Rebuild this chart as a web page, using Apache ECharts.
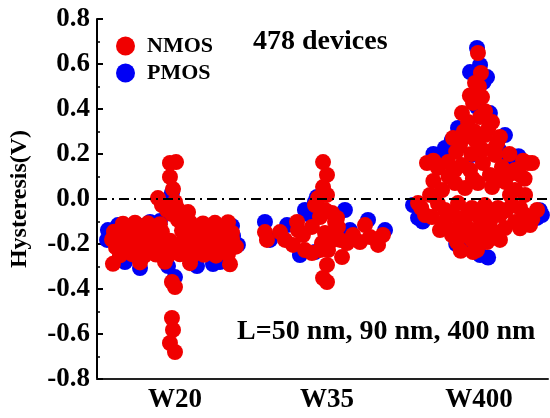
<!DOCTYPE html>
<html>
<head>
<meta charset="utf-8">
<script src="https://cdn.jsdelivr.net/npm/echarts@6/dist/echarts.min.js"></script>
<style>html,body{margin:0;padding:0;background:#fff}#c{width:550px;height:418px}</style>
</head>
<body>
<div id="c"></div>
<script>
// Categories (x positions 1, 2, 3) and y tick labels
const categories = ['W20', 'W35', 'W400'];
const yTickValues = [-0.8, -0.6, -0.4, -0.2, 0.0, 0.2, 0.4, 0.6, 0.8];

// NMOS points: [jittered category position, hysteresis (V)]
const nmosW20 = [
  [0.967,0.16],[1.007,0.164],[0.967,0.098],[0.987,0.044],[0.888,0.004],[0.914,-0.027],[0.947,-0.049],[1.0,-0.013],[1.013,-0.04],[1.086,-0.058],[1.053,-0.084],[1.02,-0.093],[0.98,-0.067],
  [0.658,-0.11],[0.737,-0.105],[0.822,-0.108],[0.901,-0.112],[1.099,-0.104],[1.184,-0.109],[1.263,-0.106],[1.349,-0.103],
  [0.599,-0.145],[0.678,-0.14],[0.757,-0.147],[0.836,-0.138],[0.914,-0.146],[1.046,-0.14],[1.138,-0.148],[1.217,-0.137],[1.296,-0.144],[1.375,-0.15],
  [0.586,-0.18],[0.651,-0.186],[0.73,-0.178],[0.809,-0.184],[0.888,-0.176],[0.967,-0.185],[1.059,-0.18],[1.138,-0.188],[1.217,-0.179],[1.296,-0.183],[1.375,-0.177],
  [0.612,-0.215],[0.691,-0.21],[0.77,-0.218],[0.849,-0.212],[0.928,-0.216],[1.02,-0.209],[1.099,-0.214],[1.178,-0.22],[1.257,-0.211],[1.336,-0.217],[1.401,-0.212],
  [0.638,-0.25],[0.717,-0.245],[0.796,-0.253],[0.875,-0.247],[0.954,-0.251],[1.033,-0.246],[1.112,-0.254],[1.191,-0.248],[1.27,-0.252],[1.349,-0.244],
  [0.592,-0.288],[0.77,-0.282],[0.934,-0.279],[1.099,-0.285],[1.362,-0.29],
  [0.98,-0.369],[1.0,-0.391],[0.98,-0.529],[0.987,-0.582],[0.967,-0.64],[1.0,-0.68]
];
const nmosW35 = [
  [1.974,0.164],[2.0,0.107],[1.974,0.053],[2.0,0.018],[1.941,0.004],[1.921,-0.027],[1.987,-0.049],[2.033,-0.062],[2.066,-0.084],[1.954,-0.08],
  [1.803,-0.102],[1.592,-0.147],[1.691,-0.147],[1.605,-0.182],[1.724,-0.182],[1.776,-0.204],[1.809,-0.138],[1.855,-0.227],[1.901,-0.24],[1.842,-0.16],
  [1.901,-0.124],[2.053,-0.102],[2.072,-0.124],[1.987,-0.151],[1.967,-0.196],[2.007,-0.227],[1.954,-0.227],[2.039,-0.182],[2.086,-0.182],[2.099,-0.258],
  [2.132,-0.196],[2.171,-0.16],[2.217,-0.191],[2.25,-0.116],[2.283,-0.169],[2.336,-0.204],[2.368,-0.16],[2.151,-0.182],
  [2.0,-0.293],[1.974,-0.351],[2.0,-0.369]
];
const nmosW400 = [
  [2.993,0.649],[3.013,0.56],[2.974,0.516],[3.0,0.5],[3.02,0.453],[2.94,0.46],[2.961,0.427],[3.04,0.39],[2.888,0.382],[3.007,0.364],[2.928,0.342],[3.086,0.342],
  [2.9,0.3],[3.06,0.31],[2.97,0.3],
  [2.829,0.271],[2.908,0.276],[2.974,0.262],[3.039,0.284],[3.138,0.276],[3.105,0.227],[2.875,0.24],[3.12,0.25],
  [2.85,0.21],[2.95,0.2],[3.02,0.22],[3.2,0.2],[2.7,0.17],[3.29,0.17],
  [2.658,0.16],[2.73,0.138],[2.796,0.164],[2.888,0.151],[2.941,0.129],[3.026,0.16],[3.105,0.196],[3.151,0.142],[3.237,0.129],[3.322,0.16],[3.349,0.16],
  [3.27,0.107],[3.072,0.107],[2.842,0.129],[2.8,0.1],[2.96,0.09],[3.13,0.1],[3.2,0.11],[2.7,0.08],[3.3,0.09],
  [2.757,0.04],[2.842,0.071],[2.908,0.049],[2.993,0.071],[3.086,0.053],[3.171,0.076],[3.237,0.04],
  [3.204,0.018],[3.303,0.018],[2.678,0.018],
  [2.599,-0.018],[2.691,-0.08],[2.776,-0.049],[2.862,-0.018],[2.954,-0.04],[3.039,-0.027],[3.125,-0.04],[3.217,-0.027],[3.303,-0.071],[3.382,-0.049],
  [2.62,-0.04],[2.73,-0.02],[2.83,-0.07],[2.92,-0.07],[3.0,-0.08],[3.08,-0.06],[3.18,-0.05],[3.27,-0.04],[3.35,-0.09],
  [3.138,-0.071],[3.237,-0.102],[3.072,-0.102],[3.336,-0.116],[2.645,-0.071],
  [2.776,-0.102],[2.908,-0.107],[2.974,-0.138],[3.171,-0.129],[2.743,-0.138],
  [2.86,-0.13],[3.03,-0.14],[3.12,-0.15],[3.27,-0.13],[2.92,-0.16],[3.0,-0.2],[2.88,-0.23],
  [2.822,-0.16],[2.855,-0.191],[2.954,-0.182],[2.987,-0.227],[3.053,-0.191],[2.961,-0.236],[3.138,-0.182]
];

// PMOS points: [jittered category position, hysteresis (V)]
const pmosW20 = [
  [0.559,-0.138],[0.553,-0.182],[0.625,-0.116],[0.789,-0.12],[0.836,-0.102],[0.901,-0.098],[0.98,0.027],[1.0,-0.347],
  [0.77,-0.307],[1.145,-0.298],[1.25,-0.289],[1.382,-0.164],[1.414,-0.204],[1.375,-0.12],[0.671,-0.28],[0.954,-0.298],[1.072,-0.102],[1.296,-0.28]
];
const pmosW35 = [
  [1.921,-0.013],[1.934,0.009],[2.118,-0.049],[1.592,-0.102],[2.382,-0.138],[2.27,-0.093],[1.855,-0.049],[1.625,-0.182],
  [1.737,-0.116],[1.888,-0.071],[2.151,-0.138],[1.822,-0.249],[1.921,-0.236]
];
const pmosW400 = [
  [2.987,0.671],[3.007,0.596],[2.941,0.564],[3.053,0.542],[3.03,0.52],[2.987,0.498],[3.0,0.44],[2.987,0.409],[3.072,0.382],[2.862,0.316],[3.171,0.284],
  [2.82,0.26],[3.13,0.22],[2.7,0.2],[3.26,0.19],
  [2.776,0.227],[2.776,0.204],[2.954,0.196],[3.191,0.173],[2.599,-0.084],[3.382,-0.084],[3.414,-0.071],[2.566,-0.027],
  [2.63,-0.1],[3.4,-0.05],[3.1,-0.16],[2.85,-0.2],
  [3.007,-0.249],[3.06,-0.26],[2.928,-0.218],[3.039,-0.182]
];

const FONT = "'Liberation Serif','Times New Roman',serif";
const X_MIN = 0.487, X_MAX = 3.454;

const chart = echarts.init(document.getElementById('c'), null, {renderer: 'canvas'});
chart.setOption({
  animation: false,
  backgroundColor: '#fff',
  grid: {left: 97, right: 2, top: 19, bottom: 39},
  xAxis: {
    type: 'value', min: X_MIN, max: X_MAX,
    splitLine: {show: false},
    axisLine: {onZero: false, lineStyle: {color: '#222', width: 2}},
    axisTick: {show: false},
    axisLabel: {
      customValues: [1, 2, 3],
      formatter: v => categories[Math.round(v) - 1] || '',
      fontFamily: FONT, fontWeight: 'bold', fontSize: 27, color: '#000', margin: 8
    }
  },
  yAxis: {
    type: 'value', min: -0.8, max: 0.8, interval: 0.2,
    name: 'Hysteresis(V)', nameLocation: 'middle', nameGap: 65,
    nameTextStyle: {fontFamily: FONT, fontWeight: 'bold', fontSize: 24, color: '#000'},
    splitLine: {show: false},
    axisLine: {show: true, onZero: false, lineStyle: {color: '#000', width: 2}},
    axisTick: {inside: true, length: 6, lineStyle: {color: '#000', width: 2}},
    minorTick: {show: true, splitNumber: 2, length: 3, lineStyle: {color: '#000', width: 1.5}},
    axisLabel: {
      formatter: v => {
        const t = yTickValues.find(a => Math.abs(a - v) < 1e-6);
        return (t === undefined ? v : t).toFixed(1);
      },
      fontFamily: FONT, fontWeight: 'bold', fontSize: 27, color: '#000', margin: 7
    }
  },
  legend: {
    data: ['NMOS', 'PMOS'], orient: 'vertical', left: 111, top: 30,
    itemWidth: 19, itemHeight: 19, itemGap: 5, icon: 'circle',
    textStyle: {fontFamily: FONT, fontWeight: 'bold', fontSize: 22, color: '#000', padding: [0, 0, 0, 7]}
  },
  graphic: [
    {type: 'text', left: 253, top: 28, style: {text: '478 devices', font: "bold 28px 'Liberation Serif','Times New Roman',serif", fill: '#000'}},
    {type: 'text', left: 237, top: 318, style: {text: 'L=50 nm, 90 nm, 400 nm', font: "bold 28px 'Liberation Serif','Times New Roman',serif", fill: '#000'}}
  ],
  series: [
    {
      name: 'PMOS', type: 'scatter', symbol: 'circle', symbolSize: 16,
      itemStyle: {color: '#0000f5', opacity: 1},
      data: pmosW20.concat(pmosW35, pmosW400), z: 2
    },
    {
      name: 'NMOS', type: 'scatter', symbol: 'circle', symbolSize: 16,
      itemStyle: {color: '#f00000', opacity: 1},
      data: nmosW20.concat(nmosW35, nmosW400), z: 3
    },
    {
      name: 'zero', type: 'line', symbol: 'none', silent: true, z: 5,
      lineStyle: {color: '#000', width: 2, type: [10, 5, 2, 5]},
      data: [[X_MIN, 0], [X_MAX, 0]]
    }
  ]
});
</script>
</body>
</html>
